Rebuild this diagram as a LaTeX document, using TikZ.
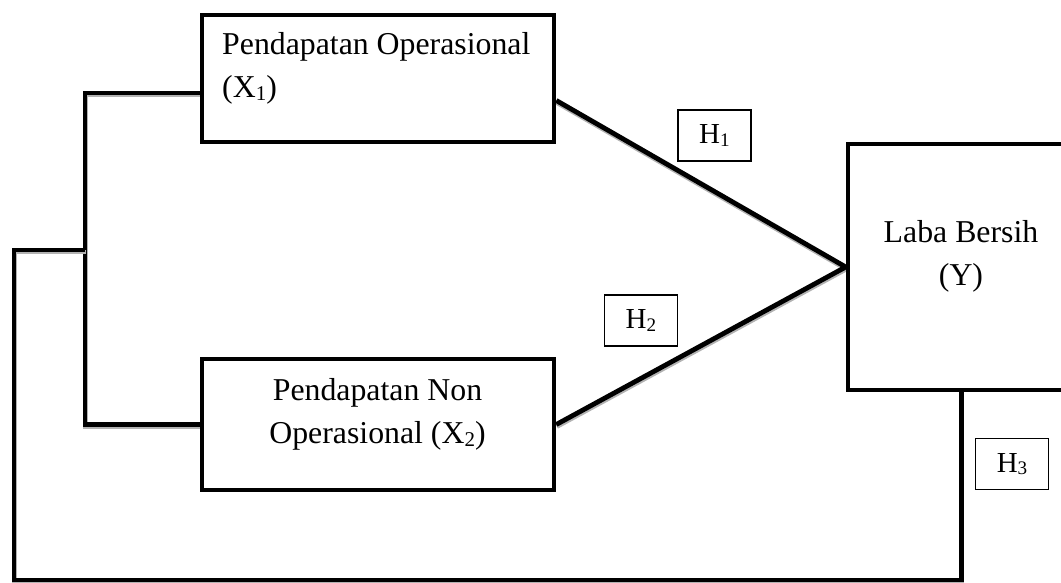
\documentclass[tikz,border=0pt]{standalone}
\usepackage{fontspec}
\usepackage{graphicx}
\setmainfont{Liberation Serif}
\usetikzlibrary{calc}
\newcommand{\sbs}[1]{\raisebox{-0.09em}{\scalebox{0.66}{#1}}}
\begin{document}
\begin{tikzpicture}[x=1pt,y=-1pt,
  box/.style={draw, line width=4.6pt, inner sep=0pt, rectangle},
  hbox/.style={draw, line width=1.4pt, minimum width=73pt, minimum height=51pt, inner sep=0pt, font=\fontsize{29pt}{34pt}\selectfont},
  wire/.style={line width=4.8pt, line join=miter, preaction={draw=black!30, line width=4.8pt, transform canvas={yshift=-2pt, xshift=0.5pt}}},
  txt/.style={inner sep=0pt, font=\fontsize{31.8pt}{43pt}\selectfont}]
\useasboundingbox (0,0) rectangle (1061,583);
\begin{scope}
\clip (0,0) rectangle (1061,583);
% boxes (positions)
\node[box, minimum width=352pt, minimum height=127pt] (x1) at (378,78.5) {};
\node[box, minimum width=352pt, minimum height=131pt] (x2) at (378,424.5) {};
\node[box, minimum width=227pt, minimum height=246pt] (y) at (961.5,267) {};
\coordinate (x1out) at ([yshift=-22pt]x1.east);
\coordinate (x1in) at ([yshift=-14.5pt]x1.west);
\coordinate (vx) at (85,0);
\coordinate (br) at (85,250);
\coordinate (lc) at (14,250);
\coordinate (bl) at (14,580);
% connectors
\draw[wire] (x1out) -- (y.west);
\draw[wire] (x2.east) -- (y.west);
\draw[wire] (x1in) -- (vx |- x1in) -- (vx |- x2.west) -- (x2.west);
\draw[wire] (br) -- (lc) -- (bl) -- (bl -| y.south) -- (y.south);
% boxes on top
\node[box, fill=white, minimum width=352pt, minimum height=127pt] at (x1) {};
\node[box, fill=white, minimum width=352pt, minimum height=131pt] at (x2) {};
\node[box, fill=white, minimum width=227pt, minimum height=246pt] at (y) {};
% texts
\node[txt, anchor=north west, align=left] (x1t) at (222,32.3) {Pendapatan Operasional\\(X\sbs{1})};
\node[txt, anchor=north, align=center] (x2t) at (377.5,378.3) {Pendapatan Non\\Operasional (X\sbs{2})};
\node[txt, anchor=north, align=center] (yt) at (961,220.3) {Laba Bersih\\(Y)};
\node[hbox] (h1) at (714.5,135.5) {H\sbs{1}};
\node[hbox] (h2) at (641,320.5) {H\sbs{2}};
\node[hbox] (h3) at (1012,464) {H\sbs{3}};
\end{scope}
\end{tikzpicture}
\end{document}
